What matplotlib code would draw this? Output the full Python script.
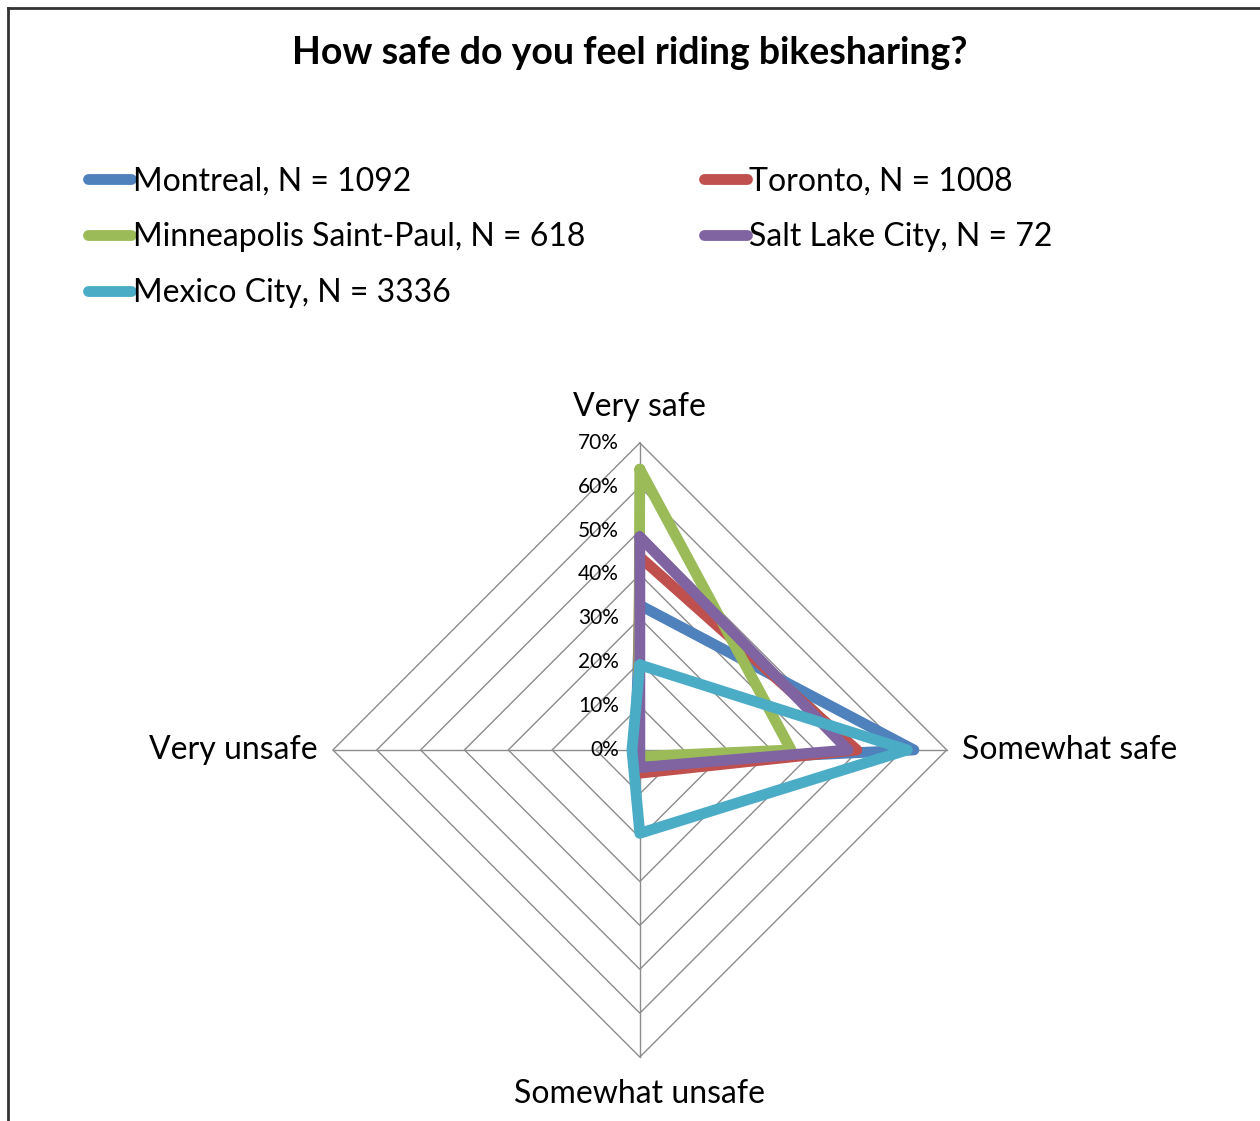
import numpy as np
import matplotlib
matplotlib.use('Agg')
from matplotlib import pyplot as plt
from matplotlib.lines import Line2D

plt.rcParams['font.family'] = ['Lato', 'DejaVu Sans']

categories = ['Very safe', 'Somewhat safe', 'Somewhat unsafe', 'Very unsafe']
cities = ['Montreal, N = 1092', 'Toronto, N = 1008', 'Minneapolis Saint-Paul, N = 618',
          'Salt Lake City, N = 72', 'Mexico City, N = 3336']
montreal = [33, 62.5, 3, 1]
toronto = [44, 49.5, 5.3, 0.5]
minneapolis = [64, 34.5, 1.5, 0.3]
salt_lake = [48.6, 47.5, 4, 0]
mexico = [19.4, 61, 19, 1.8]
colors = ['#4F81BD', '#C0504D', '#9BBB59', '#8064A2', '#4BACC6']
ticks = [0, 10, 20, 30, 40, 50, 60, 70]

series = [montreal, toronto, minneapolis, salt_lake, mexico]

# angles: top, right, bottom, left
angles = np.pi / 2 - np.arange(len(categories)) * 2 * np.pi / len(categories)


def to_xy(vals):
    vals = np.asarray(vals + vals[:1], dtype=float)
    a = np.concatenate([angles, angles[:1]])
    return vals * np.cos(a), vals * np.sin(a)


fig = plt.figure(figsize=(12.6, 11.21), dpi=100)
ax = fig.add_axes([0.2468, 0.0375, 0.522, 0.587])
ax.set_xlim(-75, 75)
ax.set_ylim(-75, 75)
ax.axis('off')

# polygon grid
for t in ticks[1:]:
    gx, gy = to_xy([t] * 4)
    ax.plot(gx, gy, color='#8c8c8c', lw=1.0, zorder=1)
for a in angles:
    ax.plot([0, 70 * np.cos(a)], [0, 70 * np.sin(a)], color='#8c8c8c', lw=1.0, zorder=1)

# tick labels on the top spoke
for t in ticks:
    ax.text(-4.8, t, f'{t}%', ha='right', va='center', fontsize=15, zorder=3)

# category labels
ax.text(0, 78.2, categories[0], ha='center', va='center', fontsize=23)
ax.text(73.5, 0, categories[1], ha='left', va='center', fontsize=23)
ax.text(0, -78.5, categories[2], ha='center', va='center', fontsize=23, clip_on=False)
ax.text(-73.5, 0, categories[3], ha='right', va='center', fontsize=23)

for vals, c in zip(series, colors):
    x, y = to_xy(vals)
    ax.plot(x, y, color=c, lw=7.8, solid_joinstyle='round', solid_capstyle='round', zorder=2)

fig.text(0.5, 0.953, 'How safe do you feel riding bikesharing?', ha='center', va='center',
         fontsize=27, fontweight='bold')

# legend
handles = [Line2D([], [], color=c, lw=7.8, solid_capstyle='round') for c in colors]
order = [0, 2, 4, 1, 3]
leg = fig.legend([handles[i] for i in order], [cities[i] for i in order],
                 loc='upper left', bbox_to_anchor=(0.047, 0.877), ncol=2, frameon=False,
                 fontsize=23, handlelength=1.35, handletextpad=0.06, columnspacing=3.7,
                 labelspacing=0.8)

# frame (top and left edges)
fig.add_artist(Line2D([0.006, 0.006], [0, 0.993], color='#333333', lw=2, transform=fig.transFigure))
fig.add_artist(Line2D([0.006, 1], [0.993, 0.993], color='#333333', lw=2, transform=fig.transFigure))

fig.savefig('out.png', dpi=100)
